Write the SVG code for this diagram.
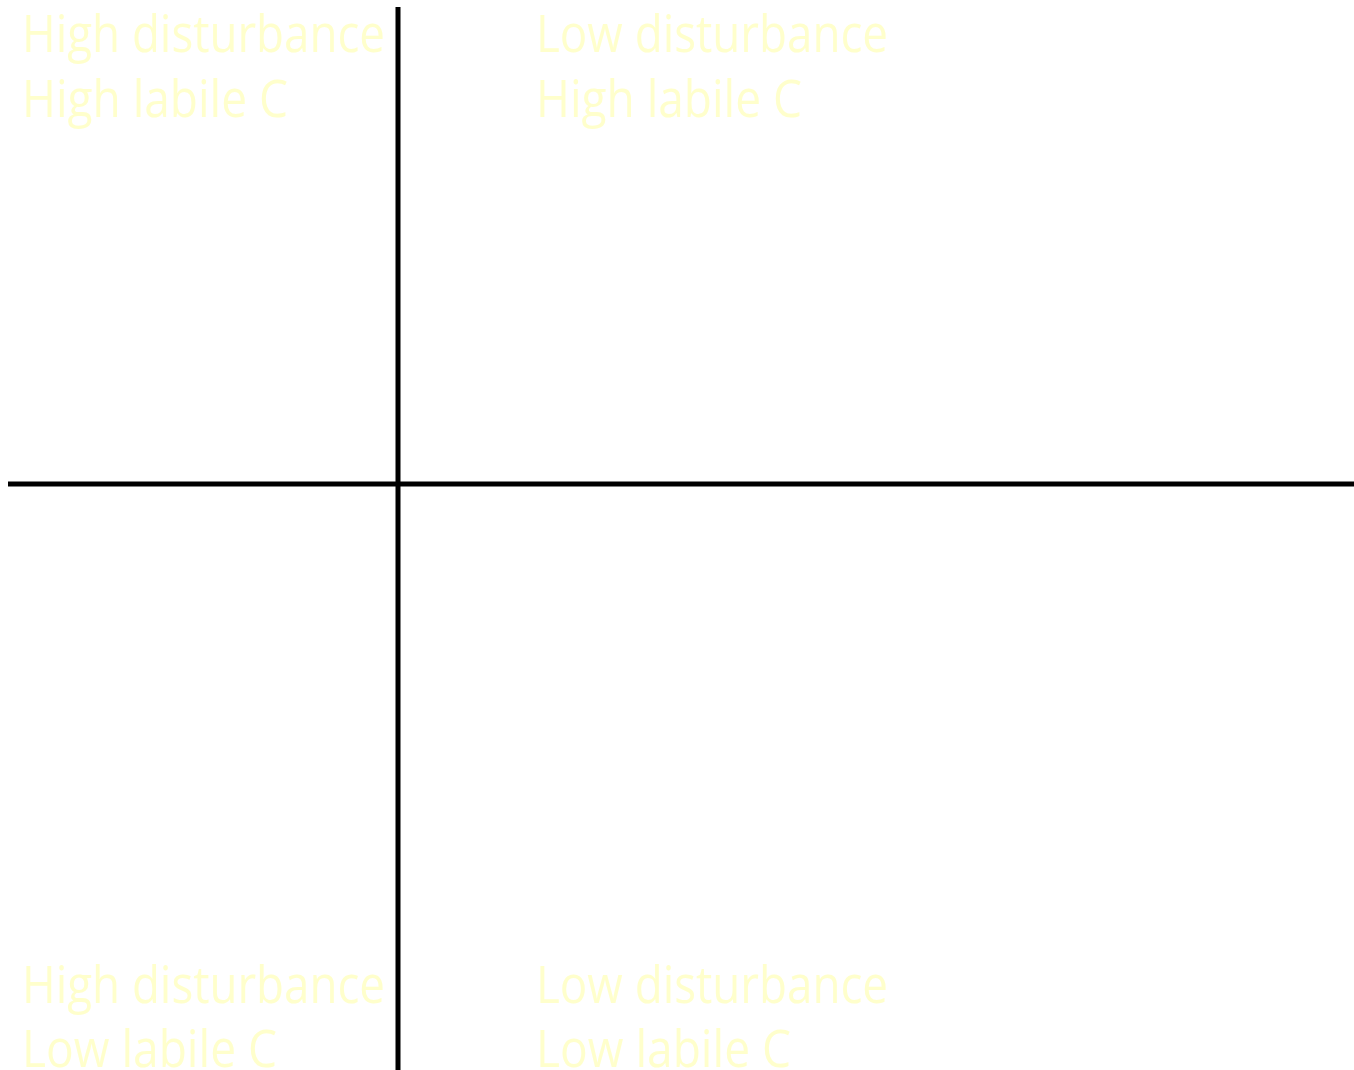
<svg xmlns="http://www.w3.org/2000/svg" width="1354" height="1070" viewBox="0 0 1354 1070">
<style>
.lbl{font-family:"Open Sans","Noto Sans","Liberation Sans",sans-serif;font-size:51px;fill:#FFFFCC}
.axis{stroke:#000;stroke-width:5;fill:none}
</style>
<rect width="1354" height="1070" fill="#fff"/>
<g id="axes">
<line class="axis" x1="398" y1="7" x2="398" y2="1070"/>
<line class="axis" x1="8" y1="484" x2="1354" y2="484"/>
</g>
<g id="q-top-left">
<text class="lbl" x="22" y="52" textLength="363" lengthAdjust="spacingAndGlyphs">High disturbance</text>
<text class="lbl" x="22" y="117" textLength="266" lengthAdjust="spacingAndGlyphs">High labile C</text>
</g>
<g id="q-top-right">
<text class="lbl" x="536" y="52" textLength="352" lengthAdjust="spacingAndGlyphs">Low disturbance</text>
<text class="lbl" x="536" y="117" textLength="266" lengthAdjust="spacingAndGlyphs">High labile C</text>
</g>
<g id="q-bottom-left">
<text class="lbl" x="22" y="1003" textLength="363" lengthAdjust="spacingAndGlyphs">High disturbance</text>
<text class="lbl" x="22" y="1067" textLength="255" lengthAdjust="spacingAndGlyphs">Low labile C</text>
</g>
<g id="q-bottom-right">
<text class="lbl" x="536" y="1003" textLength="352" lengthAdjust="spacingAndGlyphs">Low disturbance</text>
<text class="lbl" x="536" y="1067" textLength="255" lengthAdjust="spacingAndGlyphs">Low labile C</text>
</g>
</svg>
